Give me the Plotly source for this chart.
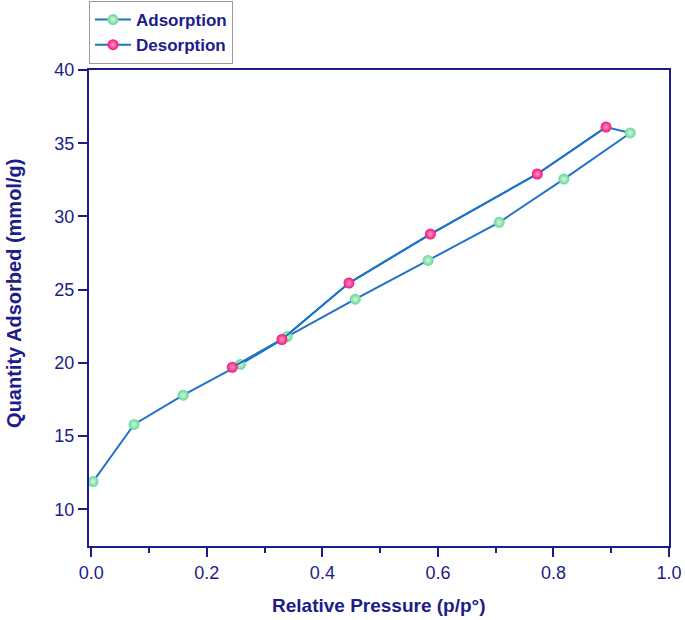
import plotly.graph_objects as go

ads_x = [0.003, 0.074, 0.159, 0.258, 0.339, 0.457, 0.583, 0.706, 0.818, 0.933]
ads_y = [11.9, 15.8, 17.8, 19.9, 21.8, 24.35, 27.0, 29.6, 32.55, 35.7]
des_x = [0.891, 0.772, 0.587, 0.446, 0.330, 0.244]
des_y = [36.1, 32.9, 28.8, 25.45, 21.6, 19.7]

navy = "#1c1c8a"
line_blue = "#1f74c8"
green = "#66d895"
pink = "#f5127a"
FONT = "Liberation Sans, Arial"

fig = go.Figure()
# connecting line from last adsorption point to the desorption branch
fig.add_trace(go.Scatter(x=[ads_x[-1]] + des_x, y=[ads_y[-1]] + des_y, mode="lines",
                         line=dict(color=line_blue, width=2), showlegend=False, hoverinfo="skip"))
fig.add_trace(go.Scatter(x=ads_x, y=ads_y, mode="lines+markers", name="<b>Adsorption</b>",
                         line=dict(color=line_blue, width=2),
                         marker=dict(color=green, size=11, line=dict(width=0),
                                     gradient=dict(type="radial", color="#d2f7e1"))))
fig.add_trace(go.Scatter(x=des_x, y=des_y, mode="lines+markers", name="<b>Desorption</b>",
                         line=dict(color=line_blue, width=2),
                         marker=dict(color=pink, size=11, line=dict(width=0),
                                     gradient=dict(type="radial", color="#ff9cc6"))))

fig.update_layout(
    width=685, height=620,
    margin=dict(l=89, r=16, t=70, b=74, autoexpand=False),
    plot_bgcolor="white", paper_bgcolor="white",
    font=dict(family=FONT, color=navy, size=18),
    legend=dict(x=89 / 685, y=1 - 1 / 620, xref="container", yref="container",
                xanchor="left", yanchor="top",
                bordercolor="#9a9a9a", borderwidth=1, bgcolor="white",
                font=dict(size=17, color=navy, family=FONT),
                itemwidth=36, tracegroupgap=0),
    showlegend=True,
    annotations=[
        dict(text="<b>Relative Pressure (p/p°)</b>", xref="paper", yref="paper",
             x=0.5, y=-0.126, xanchor="center", yanchor="middle", showarrow=False,
             font=dict(size=19, color=navy, family=FONT)),
        dict(text="<b>Quantity Adsorbed (mmol/g)</b>", xref="paper", yref="paper",
             x=-0.129, y=0.53, xanchor="center", yanchor="middle", showarrow=False,
             textangle=-90, font=dict(size=20, color=navy, family=FONT)),
    ],
)
fig.update_xaxes(range=[-0.004, 1.0], tickvals=[0, 0.2, 0.4, 0.6, 0.8, 1.0],
                 ticktext=["0.0", "0.2", "0.4", "0.6", "0.8", "1.0"],
                 ticks="outside", ticklen=9, tickwidth=2, tickcolor=navy,
                 minor=dict(tickvals=[0.1, 0.3, 0.5, 0.7, 0.9], ticks="outside", ticklen=5, tickwidth=2, tickcolor=navy),
                 showline=True, linecolor=navy, linewidth=2, mirror=True, showgrid=False, zeroline=False,
                 automargin=False, tickfont=dict(size=18, color=navy))
fig.update_yaxes(range=[7.5, 40], tickvals=[10, 15, 20, 25, 30, 35, 40],
                 ticks="outside", ticklen=9, tickwidth=2, tickcolor=navy,
                 showline=True, linecolor=navy, linewidth=2, mirror=True, showgrid=False, zeroline=False,
                 automargin=False, tickfont=dict(size=18, color=navy))

fig.write_html("out.html", config={"displayModeBar": False},
               post_script="document.body.style.margin='0';document.body.style.overflow='hidden';")
